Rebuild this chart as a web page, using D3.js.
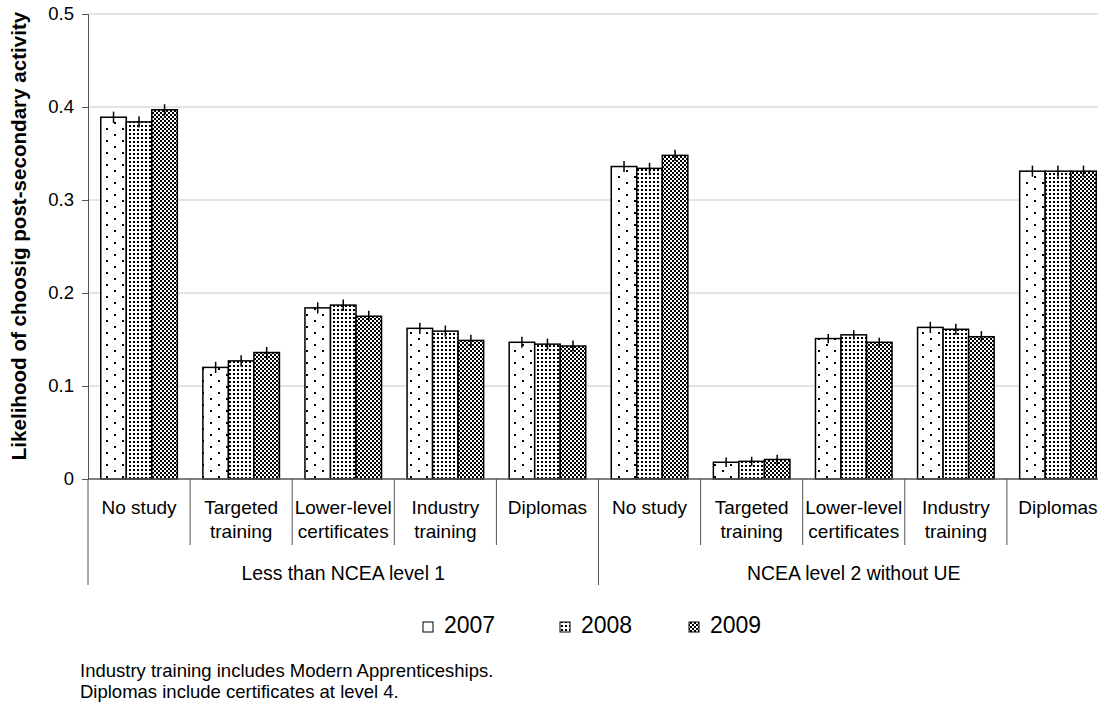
<!DOCTYPE html>
<html>
<head>
<meta charset="utf-8">
<script src="https://cdn.jsdelivr.net/npm/d3@7"></script>
<style>
  body { margin: 0; background: #fff; }
  svg { display: block; font-family: Arial, "Liberation Sans", sans-serif; }
</style>
</head>
<body>
<svg id="chart" width="1098" height="707"></svg>
<script>
// data
const years = ["2007", "2008", "2009"];
const groups = ["Less than NCEA level 1", "NCEA level 2 without UE"];
const categories = [
  ["No study"], ["Targeted", "training"], ["Lower-level", "certificates"],
  ["Industry", "training"], ["Diplomas"]
];
const values2007 = [0.389, 0.120, 0.184, 0.162, 0.147, 0.336, 0.018, 0.151, 0.163, 0.331];
const values2008 = [0.384, 0.127, 0.187, 0.159, 0.145, 0.334, 0.019, 0.155, 0.161, 0.331];
const values2009 = [0.397, 0.136, 0.175, 0.149, 0.143, 0.348, 0.021, 0.147, 0.153, 0.331];
const errors = [0.006, 0.006, 0.006, 0.006, 0.006, 0.006, 0.005, 0.005, 0.006, 0.006];
const yTicks = [0, 0.1, 0.2, 0.3, 0.4, 0.5];
const footnotes = [
  "Industry training includes Modern Apprenticeships.",
  "Diplomas include certificates at level 4."
];

const svg = d3.select("#chart");
const plotLeft = 88, plotRight = 1109, plotTop = 14, plotBottom = 479;

// fill patterns
const defs = svg.append("defs");
function pattern(id, w, h, rects) {
  const p = defs.append("pattern").attr("id", id)
    .attr("patternUnits", "userSpaceOnUse").attr("width", w).attr("height", h);
  p.append("rect").attr("width", w).attr("height", h).attr("fill", "#fff");
  rects.forEach(r => p.append("rect").attr("x", r[0]).attr("y", r[1])
    .attr("width", r[2]).attr("height", r[3]).attr("fill", "#000"));
}
pattern("p2007", 16, 12, [[2, 2, 2, 2], [10, 8, 2, 2]]);
pattern("p2008", 4, 4, [[1, 1, 2, 2]]);
pattern("p2009", 4, 4, [[0, 0, 2, 2], [2, 2, 2, 2]]);
const fills = { "2007": "url(#p2007)", "2008": "url(#p2008)", "2009": "url(#p2009)" };

// scales
const slots = d3.range(10);
const x0 = d3.scaleBand().domain(slots).range([plotLeft, plotRight]);
const x1 = d3.scaleBand().domain(years).range([0, x0.bandwidth()]).paddingOuter(0.5);
const y = d3.scaleLinear().domain([0, 0.5]).range([plotBottom, plotTop]);

// gridlines
svg.append("g").selectAll("line").data(yTicks.slice(1)).join("line")
  .attr("x1", plotLeft).attr("x2", plotRight)
  .attr("y1", d => y(d)).attr("y2", d => y(d))
  .attr("stroke", "#c8c8c8").attr("stroke-width", 1);

// y axis
const yAxis = svg.append("g").attr("transform", `translate(${plotLeft},0)`)
  .call(d3.axisLeft(y).tickValues(yTicks).tickSize(6).tickPadding(8)
    .tickFormat(d => d === 0 ? "0" : d3.format(".1f")(d)));
yAxis.select(".domain").attr("stroke", "#555");
yAxis.selectAll(".tick line").attr("stroke", "#555");
yAxis.selectAll("text").attr("font-size", 18.5).attr("fill", "#000")
  .attr("font-family", "Arial, 'Liberation Sans', sans-serif");

svg.append("text")
  .attr("transform", `translate(26,236) rotate(-90)`)
  .attr("text-anchor", "middle").attr("font-size", 20.6).attr("font-weight", "bold")
  .text("Likelihood of choosig post-secondary activity");

// bars
const series = years.map((yr, i) => ({
  year: yr,
  vals: [values2007, values2008, values2009][i]
}));
const barData = [];
series.forEach(s => s.vals.forEach((v, j) => barData.push({ year: s.year, slot: j, v: v, e: errors[j] })));

svg.append("g").selectAll("rect").data(barData).join("rect")
  .attr("x", d => x0(d.slot) + x1(d.year))
  .attr("y", d => y(d.v))
  .attr("width", x1.bandwidth())
  .attr("height", d => y(0) - y(d.v))
  .attr("fill", d => fills[d.year])
  .attr("stroke", "#000").attr("stroke-width", 1.5);

// error bars
svg.append("g").selectAll("line").data(barData).join("line")
  .attr("x1", d => x0(d.slot) + x1(d.year) + x1.bandwidth() / 2)
  .attr("x2", d => x0(d.slot) + x1(d.year) + x1.bandwidth() / 2)
  .attr("y1", d => y(d.v + d.e)).attr("y2", d => y(d.v - d.e))
  .attr("stroke", "#000").attr("stroke-width", 1.5);

// x axis line
svg.append("line").attr("x1", plotLeft).attr("x2", plotRight)
  .attr("y1", plotBottom).attr("y2", plotBottom).attr("stroke", "#555").attr("stroke-width", 1.5);

// category dividers
const axisG = svg.append("g");
slots.concat([10]).forEach(i => {
  const xx = i < 10 ? x0(i) : plotRight;
  const outer = i % 5 === 0;
  axisG.append("line").attr("x1", xx).attr("x2", xx)
    .attr("y1", plotBottom).attr("y2", outer ? 585 : 545)
    .attr("stroke", "#555").attr("stroke-width", 1);
});

// category labels
slots.forEach(i => {
  const lines = categories[i % 5];
  const t = axisG.append("text").attr("text-anchor", "middle").attr("font-size", 19)
    .attr("x", x0(i) + x0.bandwidth() / 2).attr("y", 514);
  lines.forEach((ln, k) => t.append("tspan")
    .attr("x", x0(i) + x0.bandwidth() / 2).attr("dy", k === 0 ? 0 : 24).text(ln));
});

// group labels
groups.forEach((g, gi) => {
  const gx = (x0(gi * 5) + (gi === 0 ? x0(5) : plotRight)) / 2;
  axisG.append("text").attr("text-anchor", "middle").attr("font-size", 19.4)
    .attr("x", gx).attr("y", 580).text(g);
});

// legend
const legendX = [423, 560, 689];
const legend = svg.append("g");
years.forEach((yr, i) => {
  legend.append("rect").attr("x", legendX[i]).attr("y", 622)
    .attr("width", 10).attr("height", 10)
    .attr("fill", fills[yr]).attr("stroke", "#000").attr("stroke-width", 1);
  legend.append("text").attr("x", legendX[i] + 21).attr("y", 633)
    .attr("font-size", 23).text(yr);
});

// footnotes
footnotes.forEach((f, i) => {
  svg.append("text").attr("x", 80).attr("y", 677 + i * 21)
    .attr("font-size", 18.5).text(f);
});
</script>
</body>
</html>
